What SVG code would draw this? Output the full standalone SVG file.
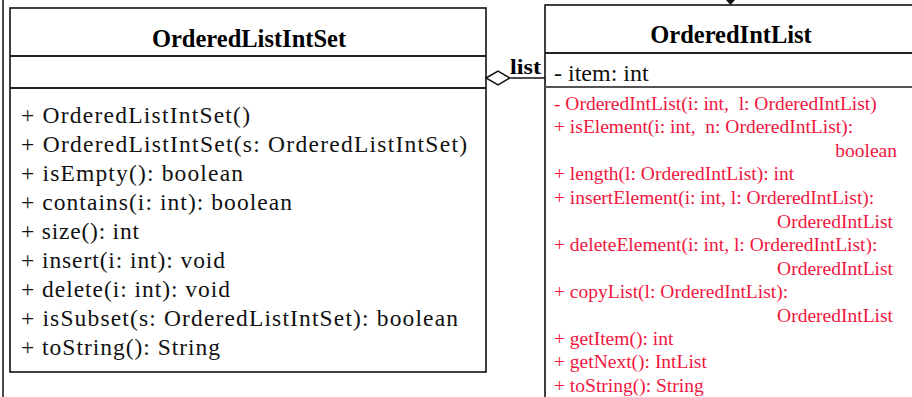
<svg xmlns="http://www.w3.org/2000/svg" width="912" height="397" viewBox="0 0 912 397">
<style>
.box{fill:#fff;stroke:#111;stroke-width:1.6}
.sep{stroke:#222;stroke-width:1.8}
.title{font-family:"Liberation Serif","Times New Roman",serif;font-weight:bold;font-size:24.5px;fill:#000}
.lbl{font-family:"Liberation Serif","Times New Roman",serif;font-weight:bold;font-size:22px;fill:#000}
.m{font-family:"Liberation Serif","Times New Roman",serif;font-size:23.5px;fill:#111}
.r{font-family:"Liberation Serif","Times New Roman",serif;font-size:19.5px;fill:#f0163f;white-space:pre}
.a{font-family:"Liberation Serif","Times New Roman",serif;font-size:24px;fill:#111}
</style>
<rect width="912" height="397" fill="#fff"/>
<line x1="3" y1="0" x2="3" y2="397" stroke="#111" stroke-width="1.5"/>
<g id="OrderedListIntSet">
<rect class="box" x="10" y="8" width="476" height="364"/>
<line class="sep" x1="10" y1="56" x2="486" y2="56"/>
<line class="sep" x1="10" y1="88" x2="486" y2="88"/>
<text class="title" x="249" y="47" text-anchor="middle">OrderedListIntSet</text>
<text class="m" x="21" y="123" textLength="229" lengthAdjust="spacing">+ OrderedListIntSet()</text>
<text class="m" x="21" y="152" textLength="446" lengthAdjust="spacing">+ OrderedListIntSet(s: OrderedListIntSet)</text>
<text class="m" x="21" y="181" textLength="222" lengthAdjust="spacing">+ isEmpty(): boolean</text>
<text class="m" x="21" y="210" textLength="271" lengthAdjust="spacing">+ contains(i: int): boolean</text>
<text class="m" x="21" y="239" textLength="118" lengthAdjust="spacing">+ size(): int</text>
<text class="m" x="21" y="268" textLength="204" lengthAdjust="spacing">+ insert(i: int): void</text>
<text class="m" x="21" y="297" textLength="209" lengthAdjust="spacing">+ delete(i: int): void</text>
<text class="m" x="21" y="326" textLength="437" lengthAdjust="spacing">+ isSubset(s: OrderedListIntSet): boolean</text>
<text class="m" x="21" y="355" textLength="199" lengthAdjust="spacing">+ toString(): String</text>
</g>
<g id="OrderedIntList">
<rect class="box" x="545" y="5" width="380" height="400" stroke-width="2"/>
<line class="sep" x1="545" y1="53" x2="912" y2="53"/>
<line x1="545" y1="87" x2="912" y2="87" stroke="#555" stroke-width="2.2"/>
<text class="title" x="731" y="43" text-anchor="middle">OrderedIntList</text>
<text class="a" x="554" y="81">- item: int</text>
<text class="r" x="554" y="110">- OrderedIntList(i: int,  l: OrderedIntList)</text>
<text class="r" x="554" y="133">+ isElement(i: int,  n: OrderedIntList):</text>
<text class="r" x="897" y="157" text-anchor="end">boolean</text>
<text class="r" x="554" y="180">+ length(l: OrderedIntList): int</text>
<text class="r" x="554" y="204">+ insertElement(i: int, l: OrderedIntList):</text>
<text class="r" x="893" y="228" text-anchor="end">OrderedIntList</text>
<text class="r" x="554" y="251">+ deleteElement(i: int, l: OrderedIntList):</text>
<text class="r" x="893" y="275" text-anchor="end">OrderedIntList</text>
<text class="r" x="554" y="298">+ copyList(l: OrderedIntList):</text>
<text class="r" x="893" y="322" text-anchor="end">OrderedIntList</text>
<text class="r" x="554" y="345">+ getItem(): int</text>
<text class="r" x="554" y="368">+ getNext(): IntList</text>
<text class="r" x="554" y="392">+ toString(): String</text>
</g>
<g id="connectors">
<polygon points="486,78 498,71 510,78 498,85" fill="#fff" stroke="#111" stroke-width="1.5"/>
<line x1="511" y1="78" x2="545" y2="78" stroke="#111" stroke-width="1.5"/>
<text class="lbl" x="510" y="74" textLength="31" lengthAdjust="spacingAndGlyphs">list</text>
<polygon points="726,0 735,0 730.5,5" fill="#111"/>
</g>
</svg>
